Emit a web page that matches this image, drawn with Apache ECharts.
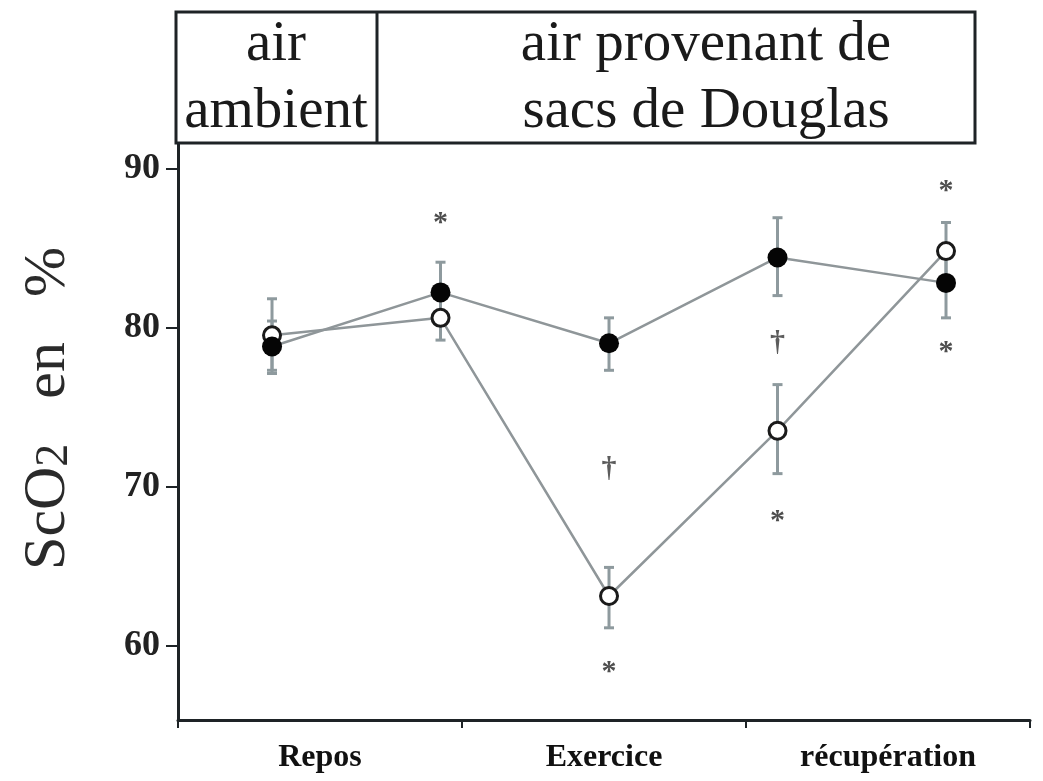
<!DOCTYPE html>
<html>
<head>
<meta charset="utf-8">
<script src="https://cdn.jsdelivr.net/npm/echarts@6/dist/echarts.min.js"></script>
<style>
html,body{margin:0;padding:0;background:#fff;}
#chart{width:1043px;height:781px;}
</style>
</head>
<body>
<div id="chart"></div>
<script>
// ---- data ----
var phases = ['Repos', 'Exercice', 'récupération'];
var timePoints = [1, 2, 3, 4, 5];
var yTicks = [60, 70, 80, 90];
var filledValues = [78.8, 82.2, 79.0, 84.4, 82.8];
var filledHigh   = [80.4, 84.1, 80.6, 86.9, 84.9];
var filledLow    = [77.1, 80.3, 77.3, 82.0, 80.6];
var openValues   = [79.5, 80.6, 63.1, 73.5, 84.8];
var openHigh     = [81.8, 82.1, 64.9, 76.4, 86.6];
var openLow      = [77.3, 79.2, 61.1, 70.8, 83.0];
var asteriskX = [2, 3, 4, 5, 5];
var asteriskY = [87.1, 58.9, 68.4, 89.1, 79.0];
var daggerX = [3, 4];
var daggerY = [71.1, 79.0];
var headerLeft = ['air', 'ambient'];
var headerRight = ['air provenant de', 'sacs de Douglas'];

var serif = '"Liberation Serif", "DejaVu Serif", serif';

function pairs(xs, ys) { return xs.map(function (x, i) { return [x, ys[i]]; }); }
function errData(vals, hi, lo) {
  return timePoints.map(function (t, i) { return [t, lo[i], hi[i]]; });
}
function errRender(params, api) {
  var x = api.value(0);
  var p1 = api.coord([x, api.value(1)]);
  var p2 = api.coord([x, api.value(2)]);
  var cap = 5;
  var st = { stroke: '#8e9a9e', lineWidth: 3 };
  return {
    type: 'group',
    children: [
      { type: 'line', shape: { x1: p1[0], y1: p1[1], x2: p2[0], y2: p2[1] }, style: st },
      { type: 'line', shape: { x1: p1[0] - cap, y1: p1[1], x2: p1[0] + cap, y2: p1[1] }, style: st },
      { type: 'line', shape: { x1: p2[0] - cap, y1: p2[1], x2: p2[0] + cap, y2: p2[1] }, style: st }
    ]
  };
}

var chart = echarts.init(document.getElementById('chart'));
var option = {
  backgroundColor: '#fff',
  animation: false,
  grid: { left: 178, right: 13, top: 143, bottom: 61, containLabel: false, outerBoundsMode: 'none' },
  xAxis: [
    {
      type: 'category',
      data: phases,
      boundaryGap: true,
      axisLine: { show: true, lineStyle: { color: '#1e2326', width: 3 } },
      axisTick: { show: true, length: 8, lineStyle: { color: '#1e2326', width: 2 } },
      axisLabel: { margin: 22, fontFamily: serif, fontWeight: 'bold', fontSize: 32, color: '#111' },
      splitLine: { show: false }
    },
    {
      type: 'value',
      min: 0.442,
      max: 5.4985,
      show: false
    }
  ],
  yAxis: {
    type: 'value',
    min: 55.3,
    max: 91.6,
    axisLine: { show: true, lineStyle: { color: '#1e2326', width: 3 } },
    axisTick: { show: true, length: 12, customValues: yTicks, lineStyle: { color: '#1e2326', width: 2 } },
    axisLabel: { customValues: yTicks, margin: 18, fontFamily: serif, fontWeight: 'bold', fontSize: 36, color: '#222' },
    splitLine: { show: false },
    name: '{a|ScO}{b|2}{a|   en   %}',
    nameLocation: 'middle',
    nameRotate: 90,
    nameGap: 100,
    nameTextStyle: {
      padding: [0, 0, 0, 46],
      rich: {
        a: { fontFamily: serif, fontSize: 60, color: '#2a2a2a' },
        b: { fontFamily: serif, fontSize: 46, color: '#2a2a2a', padding: [14, 0, 0, 0] }
      }
    }
  },
  graphic: [
    { type: 'rect', shape: { x: 176, y: 12, width: 799, height: 131 }, style: { fill: '#fff', stroke: '#1e2326', lineWidth: 3 }, z: 10 },
    { type: 'line', shape: { x1: 377, y1: 12, x2: 377, y2: 143 }, style: { stroke: '#1e2326', lineWidth: 3 }, z: 11 },
    { type: 'text', x: 276, y: 45, style: { text: headerLeft[0], font: '57px ' + serif, fill: '#1a1a1a', textAlign: 'center', textVerticalAlign: 'middle' }, z: 11 },
    { type: 'text', x: 276, y: 112, style: { text: headerLeft[1], font: '57px ' + serif, fill: '#1a1a1a', textAlign: 'center', textVerticalAlign: 'middle' }, z: 11 },
    { type: 'text', x: 706, y: 45, style: { text: headerRight[0], font: '57px ' + serif, fill: '#1a1a1a', textAlign: 'center', textVerticalAlign: 'middle' }, z: 11 },
    { type: 'text', x: 706, y: 112, style: { text: headerRight[1], font: '57px ' + serif, fill: '#1a1a1a', textAlign: 'center', textVerticalAlign: 'middle' }, z: 11 }
  ],
  series: [
    {
      type: 'custom', xAxisIndex: 1, renderItem: errRender,
      data: errData(filledValues, filledHigh, filledLow), z: 1
    },
    {
      type: 'custom', xAxisIndex: 1, renderItem: errRender,
      data: errData(openValues, openHigh, openLow), z: 1
    },
    {
      name: 'open', type: 'line', xAxisIndex: 1,
      data: pairs(timePoints, openValues),
      lineStyle: { color: '#8f9699', width: 2.5 },
      symbol: 'circle', symbolSize: 17,
      itemStyle: { color: '#fff', borderColor: '#1a1a1a', borderWidth: 3 },
      z: 3
    },
    {
      name: 'filled', type: 'line', xAxisIndex: 1,
      data: pairs(timePoints, filledValues),
      lineStyle: { color: '#8f9699', width: 2.5 },
      symbol: 'circle', symbolSize: 20,
      itemStyle: { color: '#050505', borderColor: '#050505', borderWidth: 0 },
      z: 4
    },
    {
      type: 'scatter', xAxisIndex: 1,
      data: pairs(asteriskX, asteriskY),
      symbolSize: 1,
      itemStyle: { color: 'transparent' },
      label: { show: true, position: 'inside', formatter: '*', offset: [0, 9], fontFamily: serif, fontWeight: 'bold', fontSize: 30, color: '#222' },
      z: 5
    },
    {
      type: 'scatter', xAxisIndex: 1,
      data: pairs(daggerX, daggerY),
      symbolSize: 1,
      itemStyle: { color: 'transparent' },
      label: { show: true, position: 'inside', formatter: '†', fontFamily: serif, fontWeight: 'bold', fontSize: 30, color: '#333' },
      z: 5
    }
  ]
};
chart.setOption(option);
</script>
</body>
</html>
